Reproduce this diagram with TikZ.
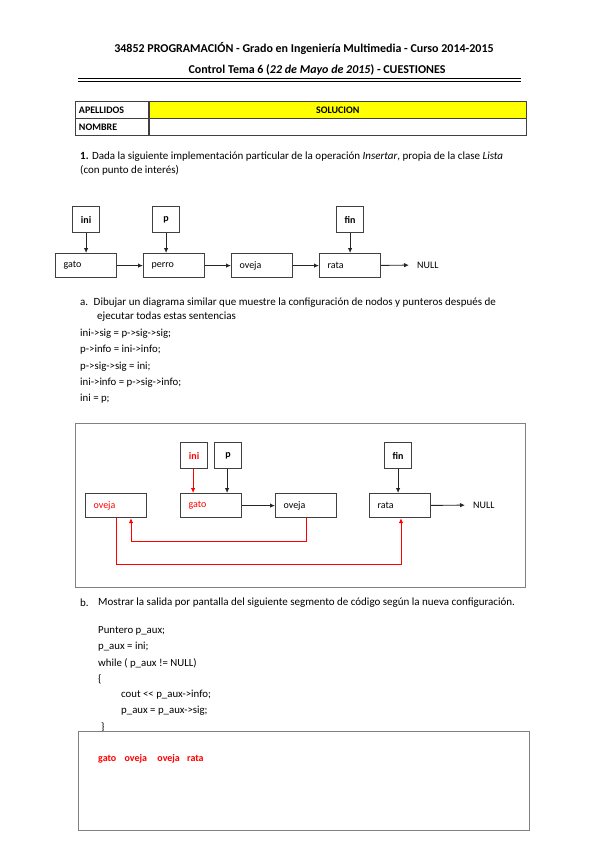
\documentclass[tikz,border=0pt]{standalone}
\usepackage{fontspec}
\setmainfont{Carlito}
\usetikzlibrary{calc,positioning,arrows.meta}
\definecolor{FrameGray}{HTML}{808080}
\definecolor{BoxGray}{HTML}{404040}
\definecolor{SolYellow}{HTML}{FFFF00}
\definecolor{AnsRed}{HTML}{FF0000}
\begin{document}
\begin{tikzpicture}[x=1pt,y=-1pt,font=\fontsize{11pt}{13pt}\selectfont,
      txt/.style={anchor=west,inner sep=0pt},
      cd/.style={anchor=west,inner sep=0pt,font=\fontsize{10.8pt}{12pt}\selectfont},
      cell/.style={draw=BoxGray,line width=0.9pt,minimum height=17pt,inner sep=0pt,anchor=north west,font=\fontsize{10pt}{11pt}\selectfont\bfseries},
      nd/.style={draw=BoxGray,line width=1.2pt,anchor=north west,minimum height=24pt,text width=45pt,align=left,inner xsep=8pt,inner ysep=0pt,font=\fontsize{10pt}{12pt}\selectfont},
      ptr/.style={draw=BoxGray,line width=1.2pt,anchor=north west,minimum width=27pt,minimum height=26pt,inner sep=0pt,font=\fontsize{10pt}{12pt}\selectfont\bfseries},
      frm/.style={draw=FrameGray,line width=1.3pt,anchor=north west,inner sep=0pt},
      nul/.style={anchor=west,inner xsep=8pt,inner ysep=0pt,font=\fontsize{10pt}{12pt}\selectfont},
      ar/.style={-{Latex[length=5pt,width=4.5pt]},line width=0.9pt,color=black!85},
      rar/.style={-{Latex[length=5pt,width=4.5pt]},line width=0.9pt,color=AnsRed}]
      \useasboundingbox (0,0) rectangle (599,848);
      % cabecera
      \node[font=\fontsize{12pt}{14pt}\selectfont\bfseries] (tit1) at (304,48) {34852 PROGRAMACIÓN - Grado en Ingeniería Multimedia - Curso 2014-2015};
      \node[font=\fontsize{12pt}{14pt}\selectfont\bfseries] (tit2) at (317,70) {Control Tema 6 (\textit{22 de Mayo de 2015}) - CUESTIONES};
      \draw[line width=1.8pt] (78,78.5) -- (521,78.5);
      \draw[line width=0.6pt] (78,81.5) -- (521,81.5);
      % tabla
      \node[cell,minimum width=73pt,text width=66pt,align=left,inner xsep=3.5pt] (ape) at (75,101) {APELLIDOS};
      \node[cell,fill=SolYellow,minimum width=377pt,anchor=west] (sol) at (ape.east) {SOLUCION};
      \node[cell,minimum width=73pt,text width=66pt,align=left,inner xsep=3.5pt] (nom) at (75,118) {NOMBRE};
      \node[cell,minimum width=377pt,anchor=west] (nomv) at (nom.east) {};
      % enunciado
      \node[txt] (q1) at (80,157) {\textbf{1.} Dada la siguiente implementación particular de la operación \textit{Insertar}, propia de la clase \textit{Lista}};
      \node[txt] (q1b) at (80,170) {(con punto de interés)};
      % lista inicial
      \node[ptr] (ini1) at (72,206) {ini};
      \node[ptr] (p1) at (152,206) {p};
      \node[ptr] (fin1) at (336,206) {fin};
      \node[nd] (gato1) at (55,253) {gato};
      \node[nd] (perro1) at (143,253) {perro};
      \node[nd] (ove1) at (231,253) {oveja};
      \node[nd] (rata1) at (319,253) {rata};
      \node[nul] (null1) at (409,265) {NULL};
      \draw[ar] (ini1.south) -- (ini1.south |- gato1.north);
      \draw[ar] (p1.south) -- (p1.south |- perro1.north);
      \draw[ar] (fin1.south) -- (fin1.south |- rata1.north);
      \draw[ar] (gato1) -- (perro1); \draw[ar] (perro1) -- (ove1); \draw[ar] (ove1) -- (rata1);
      \draw[ar] (rata1) -- (null1);
      % apartado a
      \node[txt] (qa) at (80,303) {a.\enspace Dibujar un diagrama similar que muestre la configuración de nodos y punteros después de};
      \node[txt] (qa2) at (97,317) {ejecutar todas estas sentencias};
      \node[cd] (s1) at (80,334) {ini->sig = p->sig->sig;};
      \node[cd] (s2) at (80,350) {p->info = ini->info;};
      \node[cd] (s3) at (80,367) {p->sig->sig = ini;};
      \node[cd] (s4) at (80,383) {ini->info = p->sig->info;};
      \node[cd] (s5) at (80,399) {ini = p;};
      % solucion a
      \node[frm,minimum width=450pt,minimum height=164pt] (fr1) at (75,423) {};
      \node[ptr,text=AnsRed] (ini2) at (180,442) {ini};
      \node[ptr] (p2) at (214,442) {p};
      \node[ptr] (fin2) at (384,442) {fin};
      \node[nd,text=AnsRed] (ove2a) at (85,493) {oveja};
      \node[nd,text=AnsRed] (gato2) at (180,493) {gato};
      \node[nd] (ove2b) at (275,493) {oveja};
      \node[nd] (rata2) at (369,493) {rata};
      \node[nul] (null2) at (465,505) {NULL};
      \coordinate (r1) at (131,541);
      \coordinate (r2) at (401,564);
      \draw[rar] ($(ini2.south)+(-1,0)$) -- ($(ini2.south |- gato2.north)+(-1,0)$);
      \draw[ar] ($(p2.south)+(-1,0)$) -- ($(p2.south |- gato2.north)+(-1,0)$);
      \draw[ar] (fin2.south) -- (fin2.south |- rata2.north);
      \draw[ar] (gato2) -- (ove2b);
      \draw[ar] (rata2) -- (null2);
      \draw[rar] (ove2b.south) |- (r1) -- (r1 |- ove2a.south);
      \draw[rar] (ove2a.south) |- (r2) -- (r2 |- rata2.south);
      % apartado b
      \node[txt] (qb) at (80,603) {b.};
      \node[txt] (qb2) at (98,603) {Mostrar la salida por pantalla del siguiente segmento de código según la nueva configuración.};
      \node[cd] (c1) at (98,631) {Puntero p\_aux;};
      \node[cd] (c2) at (98,647) {p\_aux = ini;};
      \node[cd] (c3) at (98,663) {while ( p\_aux != NULL)};
      \node[cd] (c4) at (98,679) {\{};
      \node[cd] (c5) at (121,695) {cout <{}< p\_aux->info;};
      \node[cd] (c6) at (121,711) {p\_aux = p\_aux->sig;};
      \node[cd] (c7) at (101,727) {\}};
      % solucion b
      \node[frm,minimum width=451pt,minimum height=99pt] (fr2) at (78,731) {};
      \node[txt,text=AnsRed,font=\fontsize{10pt}{12pt}\selectfont\bfseries] (out) at (98,759) {gato\hspace{6pt} oveja\hspace{8pt} oveja\hspace{5pt} rata};
    \end{tikzpicture}
\end{document}
